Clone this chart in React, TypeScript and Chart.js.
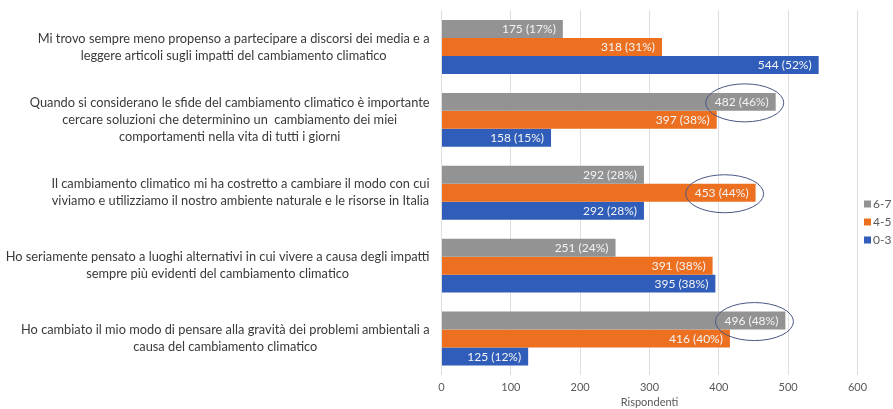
import React, { useEffect, useRef } from "react";
import { Chart, registerables } from "chart.js";

Chart.register(...registerables);

const categories: string[][] = [
  ["Mi trovo sempre meno propenso a partecipare a discorsi dei media e a", "leggere articoli sugli impatti del cambiamento climatico"],
  ["Quando si considerano le sfide del cambiamento climatico è importante", "cercare soluzioni che determinino un  cambiamento dei miei", "comportamenti nella vita di tutti i giorni"],
  ["Il cambiamento climatico mi ha costretto a cambiare il modo con cui", "viviamo e utilizziamo il nostro ambiente naturale e le risorse in Italia"],
  ["Ho seriamente pensato a luoghi alternativi in cui vivere a causa degli impatti", "sempre più evidenti del cambiamento climatico"],
  ["Ho cambiato il mio modo di pensare alla gravità dei problemi ambientali a", "causa del cambiamento climatico"],
];

const seriesNames = ["6-7", "4-5", "0-3"];
const values67 = [175, 482, 292, 251, 496];
const values45 = [318, 397, 453, 391, 416];
const values03 = [544, 158, 292, 395, 125];
const pct67 = [17, 46, 28, 24, 48];
const pct45 = [31, 38, 44, 38, 40];
const pct03 = [52, 15, 28, 38, 12];
const xTicks = [0, 100, 200, 300, 400, 500, 600];
const axisTitle = "Rispondenti";
// [datasetIndex, categoryIndex] of circled labels
const highlighted: [number, number][] = [[0, 1], [1, 2], [0, 4]];

const seriesColors = ["#939393", "#ec7020", "#2f5db9"];
const FONT = "Lato, 'Open Sans', sans-serif";

export default function App() {
  const ref = useRef<HTMLCanvasElement | null>(null);

  useEffect(() => {
    document.body.style.margin = "0";
    const canvas = ref.current!;
    const pcts = [pct67, pct45, pct03];

    const catLabels = {
      id: "catLabels",
      afterDraw(chart: any) {
        const ctx = chart.ctx;
        const ys = chart.scales.y;
        const right = chart.chartArea.left - 12;
        ctx.save();
        ctx.font = `12.8px ${FONT}`;
        ctx.fillStyle = "#3a3a3a";
        ctx.textAlign = "center";
        ctx.textBaseline = "middle";
        const lh = 17;
        categories.forEach((lines, i) => {
          const cy = ys.getPixelForValue(i);
          const maxW = Math.max(...lines.map((l) => ctx.measureText(l).width));
          const cx = right - maxW / 2;
          const y0 = cy - ((lines.length - 1) * lh) / 2;
          lines.forEach((l, j) => ctx.fillText(l, cx, y0 + j * lh));
        });
        ctx.restore();
      },
    };

    const dataLabels = {
      id: "dataLabels",
      afterDatasetsDraw(chart: any) {
        const ctx = chart.ctx;
        ctx.save();
        ctx.font = `12px ${FONT}`;
        ctx.textAlign = "right";
        ctx.textBaseline = "middle";
        chart.data.datasets.forEach((ds: any, di: number) => {
          const meta = chart.getDatasetMeta(di);
          meta.data.forEach((el: any, i: number) => {
            const txt = `${ds.data[i]} (${pcts[di][i]}%)`;
            const xr = el.x - 7;
            ctx.fillStyle = "#f4f4f4";
            ctx.fillText(txt, xr, el.y + 0.5);
            if (highlighted.some(([d, c]) => d === di && c === i)) {
              const w = ctx.measureText(txt).width;
              ctx.beginPath();
              ctx.ellipse(xr - w / 2 + 3, el.y + 1, 39, 19, 0, 0, Math.PI * 2);
              ctx.strokeStyle = "#4a5784";
              ctx.lineWidth = 1;
              ctx.stroke();
            }
          });
        });
        ctx.restore();
      },
    };

    const legendPlugin = {
      id: "customLegend",
      afterDraw(chart: any) {
        const ctx = chart.ctx;
        ctx.save();
        ctx.font = `12px ${FONT}`;
        ctx.textAlign = "left";
        ctx.textBaseline = "middle";
        seriesNames.forEach((n, i) => {
          const y = 204 + i * 18;
          ctx.fillStyle = seriesColors[i];
          ctx.fillRect(864, y - 3.5, 7, 7);
          ctx.fillStyle = "#595959";
          ctx.fillText(n, 873, y);
        });
        ctx.restore();
      },
    };

    const chart = new Chart(canvas, {
      type: "bar",
      data: {
        labels: categories.map((c) => c.join(" ")),
        datasets: [
          { label: seriesNames[0], data: values67, backgroundColor: seriesColors[0] },
          { label: seriesNames[1], data: values45, backgroundColor: seriesColors[1] },
          { label: seriesNames[2], data: values03, backgroundColor: seriesColors[2] },
        ],
      },
      options: {
        indexAxis: "y",
        responsive: false,
        animation: false,
        devicePixelRatio: 1,
        datasets: { bar: { barPercentage: 1, categoryPercentage: 0.74 } },
        layout: { padding: { top: 10.5, right: 35.5, left: 0, bottom: 0 } },
        plugins: { legend: { display: false }, tooltip: { enabled: false } },
        scales: {
          x: {
            min: 0,
            max: 600,
            afterBuildTicks: (s: any) => {
              s.ticks = xTicks.map((v) => ({ value: v }));
            },
            afterFit: (s: any) => {
              s.height = 34;
            },
            grid: { color: "#dedede", drawTicks: false },
            border: { display: false },
            ticks: { padding: 6, color: "#595959", font: { family: FONT, size: 11 } },
            title: { display: true, text: axisTitle, color: "#595959", padding: 0, font: { family: FONT, size: 11 } },
          },
          y: {
            grid: { display: false },
            border: { display: false },
            ticks: { display: false },
            afterFit: (s: any) => {
              s.width = 441.5;
            },
          },
        },
      },
      plugins: [catLabels, dataLabels, legendPlugin],
    } as any);

    return () => chart.destroy();
  }, []);

  return <canvas ref={ref} width={893} height={409} style={{ display: "block" }} />;
}
